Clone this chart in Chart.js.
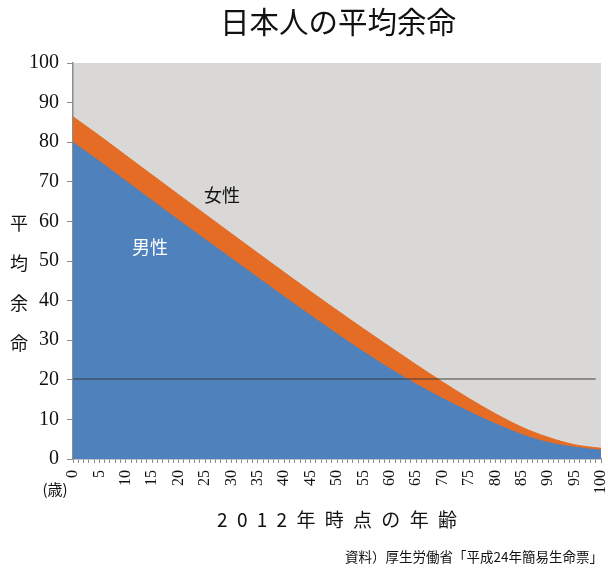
<!DOCTYPE html>
<html>
<head>
<meta charset="utf-8">
<script src="https://cdn.jsdelivr.net/npm/chart.js@4.4.1/dist/chart.umd.min.js"></script>
<style>
  html, body { margin: 0; padding: 0; background: #fff; }
  #wrap { width: 608px; height: 574px; }
</style>
</head>
<body>
<div id="wrap"><canvas id="chart" width="608" height="574"></canvas></div>
<script>
// --- DATA: 平成24年簡易生命表 ---
const ages = [0, 5, 10, 15, 20, 25, 30, 35, 40, 45, 50, 55, 60, 65, 70, 75, 80, 85, 90, 95, 100];
const maleLife = [79.94, 75.17, 70.20, 65.24, 60.30, 55.46, 50.62, 45.79, 40.98, 36.23, 31.57,
                  27.08, 22.82, 18.89, 15.28, 11.94, 8.89, 6.15, 4.16, 2.97, 2.2];
const femaleLife = [86.41, 81.64, 76.67, 71.69, 66.75, 61.83, 56.91, 52.01, 47.13, 42.30, 37.55,
                    32.89, 28.33, 23.82, 19.45, 15.27, 11.43, 8.04, 5.47, 3.6, 2.7];
const refLineAges = [0, 99];
const refLineValue = 20.2;
const yTicks = [0, 10, 20, 30, 40, 50, 60, 70, 80, 90, 100];

const chartTitle = '日本人の平均余命';
const xTitle = '2012年時点の年齢';
const yTitle = '平均余命';
const yUnit = '(歳)';
const sourceNote = '資料）厚生労働省「平成24年簡易生命票」';

const JP = '"Noto Sans CJK JP", "Noto Sans", sans-serif';
const SERIF = '"Liberation Serif", "DejaVu Serif", "Times New Roman", serif';

const toPoints = (xs, ys) => xs.map((x, i) => ({ x: x, y: ys[i] }));

// --- PLUGIN: plot background + free text ---
const decorPlugin = {
    id: 'decor',
    beforeDraw(chart) {
        const { ctx, chartArea: a } = chart;
        ctx.save();
        ctx.fillStyle = '#d9d8d7';
        ctx.fillRect(a.left, a.top, a.right - a.left, a.bottom - a.top);
        ctx.restore();
    },
    afterDraw(chart) {
        const { ctx, scales } = chart;
        const xs = scales.x, ys = scales.y;
        ctx.save();
        ctx.textBaseline = 'middle';

        // title
        ctx.fillStyle = '#111';
        ctx.textAlign = 'center';
        ctx.font = '29.5px ' + JP;
        ctx.fillText(chartTitle, 338, 22);

        // series labels
        ctx.font = '18px ' + JP;
        ctx.fillStyle = '#111';
        ctx.fillText('女性', xs.getPixelForValue(28.2), ys.getPixelForValue(66.7));
        ctx.fillStyle = '#fff';
        ctx.fillText('男性', xs.getPixelForValue(14.6), ys.getPixelForValue(53.5));

        // vertical y title
        ctx.fillStyle = '#111';
        ctx.font = '18px ' + JP;
        [...yTitle].forEach((ch, i) => ctx.fillText(ch, 19, 223 + i * 40));

        // unit
        ctx.font = '15px ' + JP;
        ctx.fillText(yUnit, 55, 489);

        // x title with wide letter spacing
        ctx.font = '19px ' + JP;
        ctx.textAlign = 'left';
        const chars = [...xTitle];
        const gap = 9.3;
        const widths = chars.map(c => ctx.measureText(c).width);
        const total = widths.reduce((s, w) => s + w, 0) + gap * (chars.length - 1);
        let cx = 337 - total / 2;
        chars.forEach((c, i) => {
            ctx.fillText(c, cx, 520);
            cx += widths[i] + gap;
        });

        // source note
        ctx.textAlign = 'right';
        ctx.font = '13.5px ' + JP;
        ctx.fillText(sourceNote, 603, 557);
        ctx.restore();
    }
};

const ctx = document.getElementById('chart').getContext('2d');
new Chart(ctx, {
    type: 'line',
    data: {
        datasets: [
            {
                label: '基準',
                data: toPoints(refLineAges, refLineAges.map(() => refLineValue)),
                borderColor: 'rgba(60, 60, 60, 0.65)',
                borderWidth: 1.3,
                pointRadius: 0,
                fill: false,
                order: 0
            },
            {
                label: '男性',
                data: toPoints(ages, maleLife),
                borderColor: '#4f81bd',
                backgroundColor: '#4f81bd',
                borderWidth: 1,
                pointRadius: 0,
                cubicInterpolationMode: 'monotone',
                fill: 'origin',
                order: 1
            },
            {
                label: '女性',
                data: toPoints(ages, femaleLife),
                borderColor: '#e46c24',
                backgroundColor: '#e46c24',
                borderWidth: 1,
                pointRadius: 0,
                cubicInterpolationMode: 'monotone',
                fill: 'origin',
                order: 2
            }
        ]
    },
    options: {
        responsive: false,
        animation: false,
        devicePixelRatio: 1,
        layout: { padding: { top: 63, right: 7, left: 0, bottom: 0 } },
        plugins: {
            legend: { display: false },
            tooltip: { enabled: false },
            title: { display: false }
        },
        scales: {
            x: {
                type: 'linear',
                min: 0,
                max: 100,
                afterFit: (s) => { s.height = 115; s.paddingLeft = 0; s.paddingRight = 0; },
                border: { display: true, color: '#8c8c8c', width: 1.5 },
                grid: { drawOnChartArea: false, drawTicks: true, tickLength: 4, color: '#8c8c8c' },
                ticks: {
                    stepSize: 1,
                    autoSkip: false,
                    minRotation: 90,
                    maxRotation: 90,
                    padding: 7,
                    color: '#111',
                    font: { family: SERIF, size: 16 },
                    callback: (v) => (v % 5 === 0 ? String(v) : '')
                }
            },
            y: {
                min: 0,
                max: 100,
                afterFit: (s) => { s.width = 73; s.paddingTop = 0; s.paddingBottom = 0; },
                afterBuildTicks: (s) => { s.ticks = yTicks.map(v => ({ value: v })); },
                border: { display: true, color: '#8c8c8c', width: 1.5 },
                grid: { drawOnChartArea: false, drawTicks: true, tickLength: 6, color: '#8c8c8c' },
                ticks: {
                    padding: 8,
                    color: '#111',
                    font: { family: SERIF, size: 20 }
                }
            }
        }
    },
    plugins: [decorPlugin]
});
</script>
</body>
</html>
